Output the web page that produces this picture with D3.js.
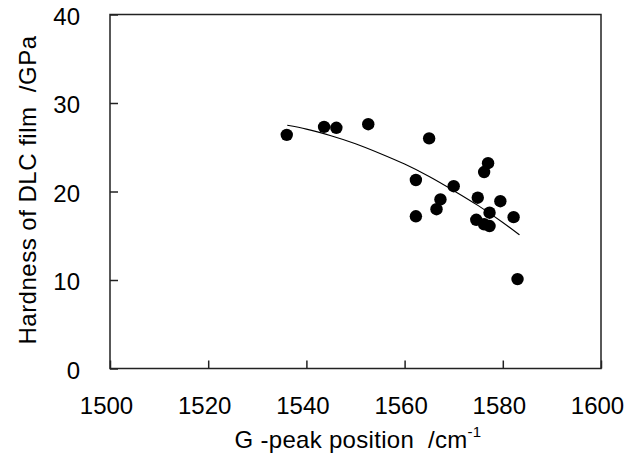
<!DOCTYPE html>
<html>
<head>
<meta charset="utf-8">
<script src="https://cdn.jsdelivr.net/npm/d3@7"></script>
<style>
  html, body { margin: 0; padding: 0; background: #fff; }
  svg { display: block; font-family: "Liberation Sans", Arial, sans-serif; }
</style>
</head>
<body>
<svg id="chart" width="625" height="461"></svg>
<script>
// Measured points: G-peak position (cm^-1) vs hardness (GPa)
const gPeak    = [1536.0, 1543.6, 1546.1, 1552.6, 1565.0, 1562.3, 1562.3, 1577.0, 1576.2, 1570.0,
                  1567.3, 1566.5, 1574.9, 1579.5, 1577.3, 1574.6, 1576.2, 1577.3, 1582.2, 1583.0];
const hardness = [26.4, 27.3, 27.2, 27.6, 26.0, 21.3, 17.2, 23.2, 22.2, 20.6,
                  19.1, 18.0, 19.3, 18.9, 17.6, 16.8, 16.3, 16.1, 17.1, 10.1];

// Trend curve
const trendX = [1536.1, 1540, 1545, 1550, 1555, 1560, 1565, 1570, 1575, 1580, 1583.4];
const trendY = [27.48, 27.05, 26.3, 25.4, 24.3, 23.1, 21.7, 20.1, 18.4, 16.5, 15.1];

const xTicks = [1500, 1520, 1540, 1560, 1580, 1600];
const yTicks = [0, 10, 20, 30, 40];

const svg = d3.select("#chart");
const mLeft = 110, mRight = 601, mTop = 14.5, mBottom = 368.5;

const x = d3.scaleLinear().domain([1500, 1600]).range([mLeft, mRight]);
const y = d3.scaleLinear().domain([0, 40]).range([mBottom, mTop]);

const axisColor = "#222";

// Frame
svg.append("rect")
  .attr("x", mLeft).attr("y", mTop)
  .attr("width", mRight - mLeft).attr("height", mBottom - mTop)
  .attr("fill", "none").attr("stroke", axisColor).attr("stroke-width", 1.5);

// X axis (inward ticks)
const gx = svg.append("g").attr("transform", `translate(0,${mBottom})`)
  .call(d3.axisBottom(x).tickValues(xTicks).tickFormat(d3.format("d"))
        .tickSizeInner(-8).tickSizeOuter(0).tickPadding(20));
gx.select(".domain").remove();
gx.selectAll(".tick line").attr("stroke", axisColor).attr("stroke-width", 1.5);
gx.selectAll(".tick text")
  .attr("font-size", 24).attr("fill", "#000")
  .attr("font-family", "Liberation Sans, Arial, sans-serif")
  .attr("dx", -4).attr("y", 45).attr("dy", 0);

// Y axis (inward ticks)
const gy = svg.append("g").attr("transform", `translate(${mLeft},0)`)
  .call(d3.axisLeft(y).tickValues(yTicks).tickFormat(d3.format("d"))
        .tickSizeInner(-8).tickSizeOuter(0).tickPadding(30));
gy.select(".domain").remove();
gy.selectAll(".tick line").attr("stroke", axisColor).attr("stroke-width", 1.5);
gy.selectAll(".tick text")
  .attr("font-size", 24).attr("fill", "#000")
  .attr("font-family", "Liberation Sans, Arial, sans-serif")
  .attr("x", -30).attr("dy", "0.40em");

// Trend curve
const trend = trendX.map((d, i) => [d, trendY[i]]);
svg.append("path")
  .datum(trend)
  .attr("fill", "none").attr("stroke", "#000").attr("stroke-width", 1.1)
  .attr("d", d3.line().x(d => x(d[0])).y(d => y(d[1])).curve(d3.curveMonotoneX));

// Points
const pts = gPeak.map((d, i) => ({gx: d, h: hardness[i]}));
svg.append("g").selectAll("circle")
  .data(pts).join("circle")
  .attr("cx", d => x(d.gx)).attr("cy", d => y(d.h))
  .attr("r", 6.2).attr("fill", "#000");

// Axis titles
const xt = svg.append("text")
  .attr("x", 358).attr("y", 448)
  .attr("text-anchor", "middle").attr("font-size", 24).attr("fill", "#000")
  .attr("letter-spacing", 0.3);
xt.append("tspan").text("G -peak position\u00a0\u00a0/cm");
xt.append("tspan").attr("dy", -11).attr("font-size", 15).text("-1");

svg.append("text")
  .attr("transform", `translate(36,190) rotate(-90)`)
  .attr("text-anchor", "middle").attr("font-size", 24).attr("fill", "#000")
  .attr("letter-spacing", 0.5)
  .text("Hardness of DLC film\u00a0\u00a0/GPa");
</script>
</body>
</html>
